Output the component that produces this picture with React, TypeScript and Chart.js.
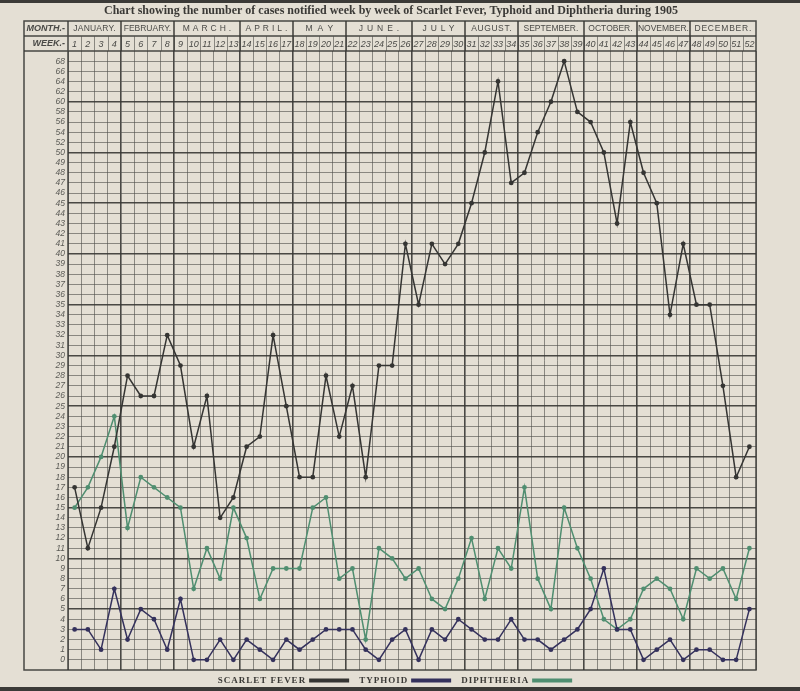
import React, { useEffect, useRef } from 'react';
import { Chart, registerables } from 'chart.js';

Chart.register(...registerables);

const TITLE =
  'Chart showing the number of cases notified week by week of Scarlet Fever, Typhoid and Diphtheria during 1905';

const WEEK_LABELS = [
  '1', '2', '3', '4', '5', '6', '7', '8', '9', '10', '11', '12', '13',
  '14', '15', '16', '17', '18', '19', '20', '21', '22', '23', '24', '25', '26',
  '27', '28', '29', '30', '31', '32', '33', '34', '35', '36', '37', '38', '39',
  '40', '41', '42', '43', '44', '45', '46', '47', '48', '49', '50', '51', '52',
];

const MONTHS = [
  'JANUARY.', 'FEBRUARY.', 'MARCH.', 'APRIL.', 'MAY', 'JUNE.',
  'JULY', 'AUGUST.', 'SEPTEMBER.', 'OCTOBER.', 'NOVEMBER.', 'DECEMBER.',
];
const MONTH_WEEKS = [4, 4, 5, 4, 4, 5, 4, 4, 5, 4, 4, 5];
const MONTH_SPACING = [0.2, 0, 3, 3, 5, 4, 4, 0.6, 0, 0, 0, 0.8];

const Y_TICK_VALUES = [
  0, 1, 2, 3, 4, 5, 6, 7, 8, 9, 10, 11, 12, 13, 14, 15, 16, 17, 18, 19, 20,
  21, 22, 23, 24, 25, 26, 27, 28, 29, 30, 31, 32, 33, 34, 35, 36, 37, 38, 39, 40,
  41, 42, 43, 44, 45, 46, 47, 48, 49, 50, 52, 54, 56, 58, 60, 62, 64, 66, 68,
];

const SCARLET_FEVER = [
  17, 11, 15, 21, 28, 26, 26, 32, 29, 21, 26, 14, 16,
  21, 22, 32, 25, 18, 18, 28, 22, 27, 18, 29, 29, 41,
  35, 41, 39, 41, 45, 50, 64, 47, 48, 54, 60, 68, 58,
  56, 50, 43, 56, 48, 45, 34, 41, 35, 35, 27, 18, 21,
];
const TYPHOID = [
  3, 3, 1, 7, 2, 5, 4, 1, 6, 0, 0, 2, 0,
  2, 1, 0, 2, 1, 2, 3, 3, 3, 1, 0, 2, 3,
  0, 3, 2, 4, 3, 2, 2, 4, 2, 2, 1, 2, 3,
  5, 9, 3, 3, 0, 1, 2, 0, 1, 1, 0, 0, 5,
];
const DIPHTHERIA = [
  15, 17, 20, 24, 13, 18, 17, 16, 15, 7, 11, 8, 15,
  12, 6, 9, 9, 9, 15, 16, 8, 9, 2, 11, 10, 8,
  9, 6, 5, 8, 12, 6, 11, 9, 17, 8, 5, 15, 11,
  8, 4, 3, 4, 7, 8, 7, 4, 9, 8, 9, 6, 11,
];

const SERIES_LABELS = ['SCARLET FEVER', 'TYPHOID', 'DIPHTHERIA'];
const SERIES_COLORS = ['#353533', '#34315c', '#4f8e70'];

const PAPER = '#e4dfd4';
const GRID_THIN = 'rgba(80,80,76,0.62)';
const GRID_THICK = 'rgba(55,55,52,0.9)';

// Rows: one row per unit up to 50, then one row per 2 units above 50
const toRow = (v: number) => (v <= 50 ? v : 50 + (v - 50) / 2);

const FRAME_LEFT = 24;
const HEADER_TOP = 21;
const HEADER_MID = 36;

const headerPlugin = {
  id: 'sheetHeader',
  beforeDraw(chart: any) {
    const { ctx, width, height } = chart;
    ctx.save();
    ctx.fillStyle = PAPER;
    ctx.fillRect(0, 0, width, height);
    ctx.fillStyle = '#3b3a37';
    ctx.fillRect(0, 0, width, 3);
    ctx.fillRect(0, height - 4, width, 4);
    ctx.restore();
  },
  afterDraw(chart: any) {
    const { ctx, chartArea: ca } = chart;
    const xs = chart.scales.x;
    const centers = WEEK_LABELS.map((_, i) => xs.getPixelForValue(i));
    const edge = (i: number) =>
      i <= 0 ? ca.left : i >= centers.length ? ca.right : (centers[i - 1] + centers[i]) / 2;

    ctx.save();
    // frame
    ctx.strokeStyle = GRID_THICK;
    ctx.lineWidth = 1.5;
    ctx.strokeRect(FRAME_LEFT, HEADER_TOP, ca.right - FRAME_LEFT, ca.bottom - HEADER_TOP);
    ctx.beginPath();
    ctx.moveTo(FRAME_LEFT, HEADER_MID);
    ctx.lineTo(ca.right, HEADER_MID);
    ctx.moveTo(FRAME_LEFT, ca.top);
    ctx.lineTo(ca.right, ca.top);
    ctx.moveTo(ca.left, HEADER_TOP);
    ctx.lineTo(ca.left, ca.bottom);
    ctx.stroke();

    // week row separators
    ctx.lineWidth = 1;
    ctx.strokeStyle = GRID_THIN;
    ctx.beginPath();
    for (let i = 1; i < centers.length; i++) {
      const x = Math.round(edge(i)) + 0.5;
      ctx.moveTo(x, HEADER_MID);
      ctx.lineTo(x, ca.top);
    }
    ctx.stroke();

    // month separators
    ctx.lineWidth = 1.6;
    ctx.strokeStyle = GRID_THICK;
    ctx.beginPath();
    let acc = 0;
    const monthSpans: [number, number][] = [];
    MONTH_WEEKS.forEach((n) => {
      monthSpans.push([edge(acc), edge(acc + n)]);
      acc += n;
      if (acc < centers.length) {
        const x = Math.round(edge(acc));
        ctx.moveTo(x, HEADER_TOP);
        ctx.lineTo(x, ca.top);
      }
    });
    ctx.stroke();

    // header texts
    ctx.fillStyle = '#4a4a47';
    ctx.textBaseline = 'middle';
    ctx.textAlign = 'right';
    ctx.font = 'italic bold 9px "Liberation Sans"';
    ctx.fillText('MONTH.-', ca.left - 3, (HEADER_TOP + HEADER_MID) / 2 + 0.5);
    ctx.fillText('WEEK.-', ca.left - 3, (HEADER_MID + ca.top) / 2 + 0.5);

    ctx.textAlign = 'center';
    ctx.font = '8.5px "Liberation Sans"';
    MONTHS.forEach((m, i) => {
      const [a, b] = monthSpans[i];
      (ctx as any).letterSpacing = MONTH_SPACING[i] + 'px';
      const cx = (a + b) / 2 + MONTH_SPACING[i] / 2;
      ctx.fillText(m, cx, (HEADER_TOP + HEADER_MID) / 2 + 0.5);
    });
    (ctx as any).letterSpacing = '0px';

    ctx.font = 'italic 9px "Liberation Sans"';
    WEEK_LABELS.forEach((w, i) => {
      ctx.fillText(w, centers[i], (HEADER_MID + ca.top) / 2 + 0.5);
    });

    // title
    ctx.fillStyle = '#3a3936';
    ctx.font = 'bold 12px "Liberation Serif"';
    ctx.textAlign = 'center';
    ctx.fillText(TITLE, 391, 11);

    // legend (text followed by a colour bar)
    ctx.font = 'bold 9px "Liberation Serif"';
    (ctx as any).letterSpacing = '1.0px';
    const barW = 40;
    const gapText = 3;
    const gapItem = 10;
    const widths = SERIES_LABELS.map((t) => ctx.measureText(t).width);
    const total =
      widths.reduce((s, w) => s + w + gapText + barW, 0) + gapItem * (SERIES_LABELS.length - 1);
    let lx = 395 - total / 2;
    const ly = 680.5;
    ctx.textAlign = 'left';
    SERIES_LABELS.forEach((t, i) => {
      ctx.fillStyle = '#3a3936';
      ctx.fillText(t, lx, ly);
      lx += widths[i] + gapText;
      ctx.fillStyle = SERIES_COLORS[i];
      ctx.fillRect(lx, ly - 2, barW, 4);
      lx += barW + gapItem;
    });
    (ctx as any).letterSpacing = '0px';
    ctx.restore();
  },
};

const MONTH_BOUNDARY_INDEX = (() => {
  const out: number[] = [];
  let acc = 0;
  MONTH_WEEKS.forEach((n) => {
    acc += n;
    out.push(acc);
  });
  return out;
})();

export default function App() {
  const ref = useRef<HTMLCanvasElement>(null);

  useEffect(() => {
    document.body.style.margin = '0';
    document.body.style.background = PAPER;
    const canvas = ref.current;
    if (!canvas) return;
    const series = [SCARLET_FEVER, TYPHOID, DIPHTHERIA];
    const chart = new Chart(canvas, {
      type: 'line',
      data: {
        labels: WEEK_LABELS,
        datasets: series.map((d, i) => ({
          label: SERIES_LABELS[i],
          data: d.map(toRow),
          borderColor: SERIES_COLORS[i],
          backgroundColor: SERIES_COLORS[i],
          borderWidth: 1.5,
          pointRadius: 2.4,
          pointBorderWidth: 0,
          tension: 0,
          fill: false,
        })),
      },
      options: {
        responsive: false,
        animation: false,
        layout: { padding: { top: 51, right: 44, bottom: 21, left: 0 } },
        plugins: {
          legend: { display: false },
          title: { display: false },
          tooltip: { enabled: false },
        },
        scales: {
          x: {
            type: 'category',
            offset: true,
            border: { display: false },
            ticks: { display: false },
            grid: {
              offset: true,
              drawTicks: false,
              color: (c: any) => (MONTH_BOUNDARY_INDEX.includes(c.index) ? GRID_THICK : GRID_THIN),
              lineWidth: (c: any) => (MONTH_BOUNDARY_INDEX.includes(c.index) ? 1.6 : 1),
            },
            afterFit: (s: any) => {
              s.height = 0;
            },
          },
          y: {
            type: 'linear',
            min: -1,
            max: 60,
            border: { display: false },
            afterBuildTicks: (s: any) => {
              s.ticks = Y_TICK_VALUES.map((v) => ({ value: toRow(v) }));
            },
            afterFit: (s: any) => {
              s.width = 68;
            },
            ticks: {
              autoSkip: false,
              padding: 3,
              color: '#5a5a55',
              font: { family: '"Liberation Sans"', size: 8.5, style: 'italic' },
              callback: (_v: any, i: number) => String(Y_TICK_VALUES[i]),
            },
            grid: {
              drawTicks: false,
              color: (c: any) => {
                const r = c.tick ? c.tick.value : 0;
                return r > 0 && r % 5 === 0 ? GRID_THICK : GRID_THIN;
              },
              lineWidth: (c: any) => {
                const r = c.tick ? c.tick.value : 0;
                return r > 0 && r % 5 === 0 ? 1.6 : 1;
              },
            },
          },
        },
      },
      plugins: [headerPlugin],
    });
    return () => chart.destroy();
  }, []);

  return (
    <div style={{ width: 800, height: 691 }}>
      <canvas ref={ref} width={800} height={691} style={{ display: 'block' }} />
    </div>
  );
}
